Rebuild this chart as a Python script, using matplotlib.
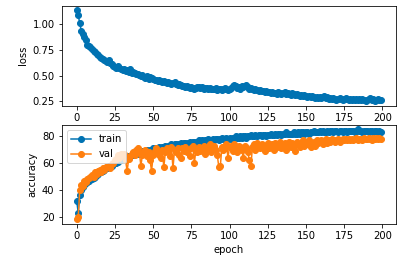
import matplotlib
matplotlib.use("Agg")
import matplotlib.pyplot as plt

loss = [
    1.14, 1.09, 1.01, 0.94, 0.91, 0.88, 0.85, 0.80, 0.79, 0.78,
    0.76, 0.74, 0.73, 0.71, 0.70, 0.68, 0.67, 0.66, 0.65, 0.64,
    0.63, 0.65, 0.62, 0.61, 0.60, 0.59, 0.58, 0.60, 0.58, 0.57,
    0.56, 0.57, 0.55, 0.56, 0.54, 0.57, 0.53, 0.54, 0.53, 0.52,
    0.52, 0.51, 0.50, 0.51, 0.49, 0.48, 0.50, 0.47, 0.49, 0.48,
    0.47, 0.46, 0.46, 0.45, 0.46, 0.45, 0.44, 0.45, 0.44, 0.43,
    0.44, 0.43, 0.42, 0.43, 0.44, 0.42, 0.41, 0.42, 0.41, 0.40,
    0.40, 0.39, 0.40, 0.39, 0.38, 0.39, 0.38, 0.37, 0.38, 0.39,
    0.39, 0.38, 0.39, 0.37, 0.38, 0.38, 0.37, 0.38, 0.37, 0.37,
    0.37, 0.38, 0.36, 0.37, 0.37, 0.36, 0.37, 0.38, 0.37, 0.36,
    0.37, 0.38, 0.40, 0.41, 0.40, 0.38, 0.39, 0.37, 0.40, 0.39,
    0.40, 0.41, 0.39, 0.37, 0.38, 0.37, 0.36, 0.37, 0.36, 0.35,
    0.36, 0.35, 0.35, 0.34, 0.35, 0.34, 0.34, 0.33, 0.34, 0.33,
    0.33, 0.32, 0.34, 0.33, 0.32, 0.33, 0.34, 0.32, 0.33, 0.32,
    0.31, 0.33, 0.32, 0.31, 0.32, 0.31, 0.30, 0.31, 0.30, 0.31,
    0.30, 0.29, 0.30, 0.29, 0.30, 0.29, 0.28, 0.29, 0.28, 0.29,
    0.28, 0.29, 0.30, 0.28, 0.29, 0.27, 0.28, 0.27, 0.28, 0.27,
    0.26, 0.27, 0.28, 0.27, 0.26, 0.27, 0.28, 0.27, 0.26, 0.27,
    0.26, 0.27, 0.26, 0.27, 0.26, 0.27, 0.26, 0.27, 0.26, 0.25,
    0.26, 0.27, 0.28, 0.26, 0.27, 0.25, 0.26, 0.27, 0.26, 0.26,
]

train_acc = [
    32, 23, 36, 40, 42, 44, 45, 46, 47, 48,
    48, 49, 50, 51, 52, 53, 53, 54, 55, 56,
    56, 57, 58, 58, 59, 60, 60, 61, 62, 62,
    63, 63, 64, 64, 65, 65, 66, 66, 67, 67,
    68, 67, 68, 69, 68, 69, 70, 69, 70, 70,
    71, 70, 71, 71, 72, 71, 72, 72, 73, 72,
    73, 73, 74, 73, 74, 74, 73, 74, 75, 74,
    75, 75, 74, 75, 76, 75, 76, 76, 75, 76,
    77, 76, 77, 76, 77, 77, 78, 77, 77, 78,
    77, 78, 78, 77, 78, 79, 78, 78, 79, 78,
    79, 78, 79, 79, 80, 79, 79, 80, 79, 80,
    80, 79, 80, 80, 81, 80, 80, 81, 80, 81,
    81, 80, 81, 81, 80, 81, 81, 82, 81, 81,
    82, 81, 82, 82, 81, 82, 82, 83, 82, 82,
    82, 82, 83, 82, 82, 83, 82, 83, 83, 82,
    83, 83, 82, 83, 83, 84, 83, 83, 83, 84,
    83, 84, 83, 83, 84, 83, 84, 84, 83, 84,
    84, 83, 84, 84, 83, 84, 84, 83, 84, 84,
    84, 84, 83, 84, 85, 84, 84, 83, 84, 84,
    84, 83, 84, 84, 83, 84, 84, 83, 84, 83,
]

val_acc = [
    18, 20, 40, 44, 43, 47, 46, 48, 49, 50,
    51, 50, 53, 52, 54, 55, 53, 56, 55, 57,
    57, 58, 56, 59, 60, 62, 63, 66, 64, 67,
    66, 67, 62, 54, 63, 65, 67, 68, 66, 70,
    71, 68, 58, 66, 69, 70, 65, 68, 62, 54,
    66, 69, 71, 68, 66, 64, 70, 57, 68, 71,
    69, 65, 72, 56, 70, 68, 71, 66, 64, 71,
    69, 72, 68, 70, 65, 71, 73, 60, 70, 68,
    72, 69, 71, 73, 67, 70, 72, 74, 68, 71,
    73, 70, 66, 57, 58, 72, 70, 71, 74, 64,
    72, 73, 69, 74, 71, 68, 73, 72, 70, 64,
    73, 71, 68, 62, 58, 72, 74, 70, 75, 73,
    71, 74, 72, 69, 73, 75, 71, 73, 74, 70,
    75, 72, 74, 76, 71, 73, 75, 70, 74, 76,
    72, 75, 73, 69, 76, 74, 72, 75, 77, 73,
    76, 74, 77, 72, 75, 76, 73, 77, 75, 76,
    77, 74, 76, 78, 75, 77, 76, 78, 77, 76,
    77, 78, 76, 77, 78, 77, 78, 77, 78, 77,
    78, 77, 78, 79, 77, 78, 78, 77, 79, 78,
    78, 79, 78, 77, 79, 78, 79, 78, 79, 78,
]

loss_ticks = [0.25, 0.50, 0.75, 1.00]

epochs = list(range(len(loss)))

blue = "#0072B2"
orange = "#FF7F0E"

W, H = 401, 258
fig = plt.figure(figsize=(W / 72, H / 72), dpi=72)

ax1 = fig.add_axes([61.5 / W, 1 - 106 / H, (396 - 61.5) / W, (106 - 5.5) / H])
ax2 = fig.add_axes([61.5 / W, 1 - 224 / H, (396 - 61.5) / W, (224 - 125) / H])

ax1.plot(epochs, loss, "-o", color=blue)
ax1.set_yticks(loss_ticks)
ax1.set_ylabel("loss")

ax2.plot(epochs, train_acc, "-o", color=blue, label="train")
ax2.plot(epochs, val_acc, "-o", color=orange, label="val")
ax2.set_ylabel("accuracy")
ax2.set_xlabel("epoch")
ax2.legend(loc="upper left")

fig.savefig("out.png", dpi=72)
